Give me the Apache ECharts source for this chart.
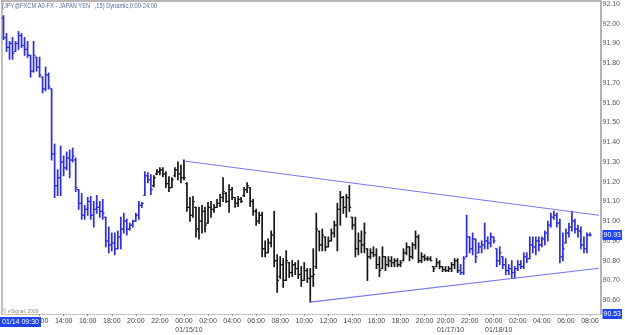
<!DOCTYPE html>
<html><head><meta charset="utf-8">
<script src="https://cdn.jsdelivr.net/npm/echarts@6/dist/echarts.min.js"></script>
<style>html,body{margin:0;padding:0;background:#fff}#c{width:625px;height:335px}</style>
</head><body><div id="c"></div>
<script>
// ---------------- DATA ----------------
// trading sessions of 15-minute bars: [date, first bar, last slot]
const sessions = [
  ['01/14/10', '09:00', '23:45'],
  ['01/15/10', '00:00', '20:45'],
  ['01/17/10', '19:15', '23:45'],
  ['01/18/10', '00:00', '08:45']
];
const opens = [
  92.03,91.93,91.88,91.90,91.86,91.90,91.94,91.89,91.87,91.84,
  91.76,91.83,91.78,91.73,91.67,91.74,91.67,91.34,91.18,91.22,
  91.30,91.27,91.32,91.31,91.31,91.16,91.09,91.03,91.06,91.10,
  91.03,91.06,91.07,91.05,91.02,90.90,90.88,90.89,90.86,90.92,
  90.96,91.00,90.96,90.98,91.00,91.03,91.08,91.13,91.23,91.21,
  91.18,91.24,91.25,91.26,91.24,91.19,91.17,91.23,91.26,91.24,
  91.22,91.19,91.07,91.03,91.07,90.96,91.00,91.05,90.99,91.07,
  91.06,91.07,91.09,91.12,91.14,91.10,91.16,91.12,91.09,91.11,
  91.13,91.16,91.17,91.10,91.05,91.00,91.03,90.86,90.84,90.89,
  90.93,90.80,90.72,90.78,90.70,90.79,90.74,90.78,90.76,90.73,
  90.70,90.75,90.71,90.72,90.77,90.95,90.88,90.92,90.87,90.90,
  90.94,90.98,91.06,91.12,91.07,91.12,91.02,90.98,90.86,90.90,
  90.88,90.86,90.82,90.84,90.83,90.78,90.76,90.82,90.78,90.80,
  90.79,90.80,90.78,90.80,90.84,90.87,90.82,90.88,90.92,90.80,
  90.82,90.81,90.81,90.77,90.77,90.79,90.77,90.755,90.75,90.76,
  90.78,90.80,90.75,90.74,90.82,90.92,90.86,90.91,90.84,90.87,
  90.88,90.90,90.89,90.92,90.86,90.80,90.82,90.78,90.75,90.76,
  90.74,90.76,90.78,90.77,90.82,90.81,90.88,90.87,90.90,90.88,
  90.91,90.94,90.98,91.02,91.03,90.99,90.82,90.89,90.94,90.97,
  91.00,90.96,90.95,90.88,90.86,90.93
];
const highs = [
  92.04,91.95,91.91,91.93,91.91,91.96,91.95,91.93,91.91,91.84,
  91.91,91.83,91.83,91.73,91.78,91.75,91.67,91.39,91.26,91.38,
  91.33,91.35,91.36,91.37,91.32,91.16,91.14,91.08,91.12,91.125,
  91.10,91.13,91.10,91.11,91.02,90.97,90.94,90.94,90.95,91.02,
  91.04,91.01,90.99,91.005,91.04,91.10,91.095,91.25,91.245,91.235,
  91.23,91.26,91.27,91.27,91.25,91.225,91.22,91.27,91.30,91.285,
  91.31,91.195,91.12,91.125,91.07,91.07,91.08,91.07,91.095,91.10,
  91.085,91.11,91.135,91.22,91.145,91.185,91.17,91.12,91.125,91.12,
  91.17,91.195,91.17,91.11,91.06,91.045,91.045,90.90,90.91,90.95,
  91.05,90.83,90.82,90.81,90.85,90.79,90.80,90.79,90.80,90.77,
  90.79,90.76,90.76,90.86,91.04,90.95,90.96,90.92,90.92,90.96,
  91.00,91.09,91.15,91.125,91.135,91.18,91.02,91.02,90.94,90.95,
  90.99,90.86,90.86,90.87,90.86,90.82,90.87,90.82,90.82,90.82,
  90.81,90.81,90.80,90.86,90.89,90.87,90.89,90.95,90.93,90.84,
  90.83,90.82,90.82,90.77,90.81,90.80,90.77,90.77,90.77,90.79,
  90.81,90.81,90.78,90.82,91.03,90.92,90.94,90.91,90.89,90.90,
  90.99,90.92,90.94,90.92,90.86,90.87,90.82,90.81,90.78,90.80,
  90.77,90.80,90.80,90.84,90.84,90.92,90.92,90.92,90.92,90.92,
  90.95,91.00,91.04,91.05,91.04,91.01,90.94,90.96,90.99,91.05,
  91.01,90.98,90.97,90.92,90.94,90.94
];
const lows = [
  91.92,91.86,91.82,91.82,91.86,91.87,91.88,91.84,91.83,91.73,
  91.755,91.76,91.73,91.65,91.66,91.67,91.31,91.12,91.13,91.13,
  91.23,91.26,91.22,91.30,91.15,91.06,91.01,91.01,91.03,91.01,
  90.97,91.04,91.02,91.01,90.87,90.84,90.85,90.83,90.86,90.86,
  90.94,90.93,90.955,90.97,91.00,91.01,91.07,91.13,91.195,91.135,
  91.175,91.235,91.235,91.225,91.17,91.15,91.17,91.225,91.21,91.195,
  91.21,91.05,91.00,91.02,90.92,90.91,90.94,90.945,90.99,91.02,
  91.045,91.07,91.074,91.10,91.094,91.045,91.11,91.07,91.075,91.095,
  91.125,91.145,91.075,91.03,90.98,90.99,90.82,90.82,90.84,90.87,
  90.77,90.64,90.71,90.665,90.70,90.715,90.72,90.73,90.71,90.67,
  90.70,90.69,90.59,90.67,90.76,90.85,90.85,90.85,90.87,90.90,
  90.92,90.85,90.98,91.04,91.02,91.05,90.96,90.82,90.83,90.84,
  90.84,90.70,90.81,90.82,90.76,90.72,90.76,90.75,90.77,90.77,
  90.77,90.77,90.77,90.80,90.83,90.80,90.81,90.86,90.79,90.79,
  90.80,90.80,90.80,90.745,90.77,90.76,90.745,90.745,90.745,90.745,
  90.76,90.74,90.73,90.73,90.82,90.84,90.83,90.79,90.84,90.84,
  90.86,90.86,90.87,90.89,90.77,90.78,90.76,90.73,90.73,90.71,
  90.71,90.75,90.76,90.76,90.79,90.81,90.84,90.83,90.85,90.87,
  90.88,90.90,90.97,91.01,90.97,90.79,90.80,90.89,90.92,90.95,
  90.94,90.92,90.86,90.84,90.84,90.925
];
const closes = [
  91.93,91.88,91.90,91.85,91.90,91.94,91.89,91.87,91.84,91.76,
  91.84,91.78,91.74,91.67,91.74,91.68,91.34,91.18,91.22,91.30,
  91.27,91.32,91.31,91.33,91.17,91.09,91.03,91.06,91.10,91.03,
  91.06,91.07,91.05,91.04,90.90,90.88,90.89,90.86,90.92,90.96,
  91.00,90.96,90.98,91.00,91.03,91.08,91.09,91.23,91.21,91.16,
  91.22,91.25,91.26,91.24,91.19,91.17,91.21,91.26,91.24,91.22,
  91.22,91.07,91.03,91.10,90.96,91.00,91.05,90.98,91.07,91.06,
  91.07,91.09,91.12,91.15,91.10,91.16,91.12,91.09,91.11,91.10,
  91.16,91.18,91.10,91.05,91.00,91.03,90.86,90.84,90.89,90.93,
  90.80,90.70,90.78,90.70,90.80,90.74,90.78,90.76,90.73,90.70,
  90.75,90.71,90.72,90.73,90.96,90.88,90.93,90.87,90.90,90.94,
  90.98,91.06,91.12,91.07,91.12,91.07,90.98,90.86,90.90,90.88,
  90.94,90.82,90.84,90.83,90.78,90.75,90.82,90.78,90.80,90.79,
  90.80,90.78,90.79,90.84,90.87,90.82,90.88,90.92,90.80,90.82,
  90.81,90.81,90.80,90.76,90.79,90.77,90.755,90.75,90.76,90.78,
  90.80,90.75,90.74,90.81,90.92,90.86,90.91,90.82,90.87,90.88,
  90.90,90.89,90.92,90.90,90.80,90.84,90.78,90.75,90.76,90.74,
  90.76,90.78,90.77,90.82,90.81,90.88,90.87,90.90,90.88,90.91,
  90.94,90.98,91.02,91.03,90.99,90.82,90.86,90.94,90.97,91.00,
  90.96,90.95,90.88,90.86,90.93,90.93
];
const priceTicks = [90.6,90.7,90.8,90.9,91.0,91.1,91.2,91.3,91.4,91.5,91.6,91.7,91.8,91.9,92.0,92.1];
const axisMin = 90.53;
const axisMax = 92.115;
const lastPrice = 90.93;
const upperTrend = [['01/15 00:00', 91.305], ['01/18 08:45', 91.03]];
const lowerTrend = [['01/15 10:30', 90.59], ['01/18 08:45', 90.762]];
const titleText = '(JPY@FXCM A0-FX - JAPAN YEN   ,15) Dynamic,0:00-24:00';
const cursorLabel = '01/14 09:30';
const copyright = '\u00a9 eSignal, 2009';

// ---------------- BUILD ----------------
function toMin(s){const p=s.split(':');return +p[0]*60 + +p[1];}
function pad(n){return (n<10?'0':'')+n;}
const categories=[], catTime=[], catSession=[], catDate=[];
sessions.forEach(function(s, si){
  for(let m=toMin(s[1]); m<=toMin(s[2]); m+=15){
    const t=pad(Math.floor(m/60))+':'+pad(m%60);
    categories.push(s[0].slice(0,5)+' '+t);
    catTime.push(t); catSession.push(si); catDate.push(s[0]);
  }
});
const ohlc = opens.map(function(o,i){return [i,o,closes[i],lows[i],highs[i]];});

const FONT = "'Liberation Sans',Arial,sans-serif";
const BLUE = '#2a2af0', BLACK = '#161616', TREND = '#7878ee', HL = '#1f44f2';
const blueUntil = categories.indexOf('01/14 21:15');
const blueFrom = categories.indexOf('01/17 21:15');

function showLabel(i){
  const t=catTime[i];
  if(t.slice(3)!=='00') return false;
  const h=+t.slice(0,2);
  if(h%2) return false;
  if(catSession[i]===0 && h<12) return false;
  return true;
}
const firstLabelOfSession = {};
categories.forEach(function(c,i){ if(showLabel(i) && firstLabelOfSession[catSession[i]]===undefined) firstLabelOfSession[catSession[i]]=i; });

function renderItem(params, api){
  const i = api.value(0);
  const pO = api.coord([i, api.value(1)]);
  const pC = api.coord([i, api.value(2)]);
  const pL = api.coord([i, api.value(3)]);
  const pH = api.coord([i, api.value(4)]);
  const col = (i<=blueUntil || i>=blueFrom) ? BLUE : BLACK;
  const t = 1.8;
  return {type:'group', children:[
    {type:'line', shape:{x1:pH[0], y1:pH[1]-0.5, x2:pL[0], y2:pL[1]+0.5}, style:{stroke:col, lineWidth:1.7}},
    {type:'line', shape:{x1:pO[0]-t, y1:pO[1], x2:pO[0], y2:pO[1]}, style:{stroke:col, lineWidth:1.2}},
    {type:'line', shape:{x1:pC[0], y1:pC[1], x2:pC[0]+t, y2:pC[1]}, style:{stroke:col, lineWidth:1.2}}
  ]};
}

const chart = echarts.init(document.getElementById('c'), null, {renderer:'canvas'});
chart.setOption({
  animation:false,
  backgroundColor:'#ffffff',
  grid:{left:2, right:17, top:1, bottom:19.2, containLabel:false},
  xAxis:[{
    type:'category', data:categories, position:'bottom', boundaryGap:true,
    axisLine:{show:true, lineStyle:{color:'#b8b8b8', type:'dotted', width:1}},
    axisTick:{show:true, alignWithLabel:true, interval:function(i){return showLabel(i);}, length:2, lineStyle:{color:'#999'}},
    axisLabel:{
      interval:function(i){return showLabel(i);},
      margin:3, fontSize:7, color:'#444', fontFamily:FONT, lineHeight:9,
      formatter:function(v, i){
        const t=catTime[i];
        if(catSession[i]>0 && firstLabelOfSession[catSession[i]]===i){
          return '{t|'+t+'}\n{d|'+catDate[i]+'}';
        }
        return t;
      },
      rich:{t:{fontSize:7, color:'#444', fontFamily:FONT, lineHeight:9},
            d:{fontSize:7, color:'#444', fontFamily:FONT, lineHeight:9, padding:[0,0,0,10]}}
    },
    splitLine:{show:false}
  },{
    type:'category', data:categories, position:'top',
    axisLine:{show:true, lineStyle:{color:'#a0a0a0', width:1.5}},
    axisTick:{show:false}, axisLabel:{show:false}, splitLine:{show:false}
  }],
  yAxis:[{
    type:'value', position:'right', min:axisMin, max:axisMax,
    splitLine:{show:false},
    axisLine:{show:true, lineStyle:{color:'#9a9a9a', width:1.5}},
    axisTick:{show:false},
    axisLabel:{
      customValues: priceTicks.concat([axisMin, lastPrice]),
      margin:2, fontSize:7, color:'#555', fontFamily:FONT,
      formatter:function(v){
        if(Math.abs(v-lastPrice)<1e-6 || Math.abs(v-axisMin)<1e-6) return '{h|'+v.toFixed(2)+'}';
        return v.toFixed(2);
      },
      rich:{h:{backgroundColor:HL, color:'#fff', fontSize:7, fontFamily:FONT, padding:[2,1,1,1]}}
    }
  },{
    type:'value', position:'left', min:axisMin, max:axisMax,
    splitLine:{show:false}, axisTick:{show:false}, axisLabel:{show:false},
    axisLine:{show:true, lineStyle:{color:'#a8a8a8', width:1.5}}
  }],
  series:[
    {type:'custom', name:'JPY', renderItem:renderItem, data:ohlc, encode:{x:0, y:[1,2,3,4]}, clip:true, silent:true},
    {type:'line', data:upperTrend, symbol:'none', silent:true, lineStyle:{color:TREND, width:1.1}},
    {type:'line', data:lowerTrend, symbol:'none', silent:true, lineStyle:{color:TREND, width:1.1}}
  ],
  graphic:[
    {type:'text', x:2, y:2, scaleX:0.71, originX:0, z:100, style:{text:titleText, fill:'#5a6aa8', font:'8px '+FONT}},
    {type:'text', left:3, top:309, z:100, style:{text:copyright, fill:'#888', font:'5px '+FONT}},
    {type:'text', left:0, top:317, z:100, style:{text:cursorLabel, fill:'#fff', backgroundColor:HL, padding:[2,2,1,2], font:'7px '+FONT}}
  ]
});
</script>
</body></html>
